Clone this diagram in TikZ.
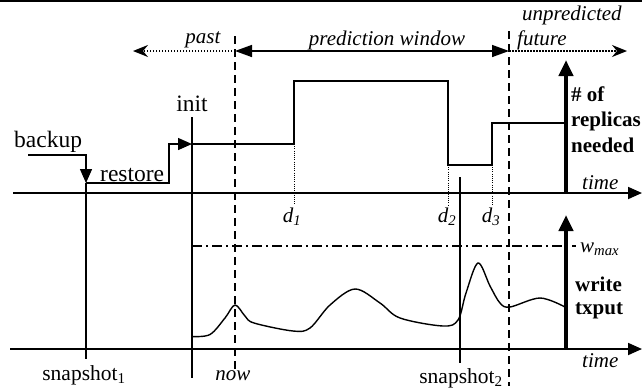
\documentclass[tikz,border=0pt]{standalone}
\usepackage{fontspec}
\setmainfont{Liberation Serif}
\usetikzlibrary{arrows.meta}
\begin{document}
\begin{tikzpicture}[x=1pt,y=-1pt,
  lbl/.style={inner sep=0pt, font=\fontsize{21.5}{24}\selectfont},
  biglbl/.style={inner sep=0pt, font=\fontsize{23.5}{26}\selectfont},
  ilbl/.style={lbl, font=\fontsize{21}{24}\selectfont\itshape},
  blbl/.style={lbl, font=\fontsize{21}{24}\selectfont\bfseries},
  axis/.style={line width=1.8pt, -{Triangle[length=14pt,width=12pt]}},
  stepline/.style={line width=1.4pt},
  thin/.style={line width=1.4pt},
  bigarrow/.style={line width=4pt, -{Triangle[length=16pt,width=14pt]}},
  dashv/.style={line width=1.5pt, dash pattern=on 8pt off 5pt},
  dotv/.style={line width=1pt, dash pattern=on 1pt off 1.2pt},
  dotarrow/.style={line width=1.5pt, dash pattern=on 1.5pt off 1.5pt, -{Stealth[length=15pt,width=12pt,inset=5pt]}},
  wmaxline/.style={line width=1.4pt, dash pattern=on 10pt off 4pt on 2pt off 4pt}
]
\useasboundingbox (0,0) rectangle (642,389);
% top frame line
\draw[line width=2pt] (0,0.8) -- (642,0.8);

% coordinates
\coordinate (now) at (235,51);
\coordinate (fut) at (509,51);
\coordinate (pastend) at (133,51);
\coordinate (futend) at (627,51);

% top arrows
\draw[dotarrow] (now) -- (pastend);
\draw[dotarrow] (fut) -- (futend);
\draw[line width=1.5pt, {Triangle[length=17pt,width=12pt]}-{Triangle[length=17pt,width=12pt]}] (now) -- (fut);

\node[ilbl, anchor=base] (past) at (203,43) {past};
\node[ilbl, anchor=base] (pw) at (387,45) {prediction window};
\node[ilbl, anchor=base west] (unp) at (522,20) {unpredicted};
\node[ilbl, anchor=base west] (future) at (517,45) {future};

% dashed verticals
\coordinate (nowtop) at (235,36);
\coordinate (nowbot) at (235,372);
\coordinate (futtop) at (509,31);
\coordinate (futbot) at (509,386);
\draw[dashv] (nowtop) -- (nowbot);
\draw[dashv] (futtop) -- (futbot);

% axes
\coordinate (ax1s) at (13,193);
\coordinate (ax1e) at (642,193);
\coordinate (ax2s) at (10,349);
\coordinate (ax2e) at (642,349);
\draw[axis] (ax1s) -- (ax1e);
\draw[axis] (ax2s) -- (ax2e);
\node[ilbl, anchor=base west] (time1) at (582,189) {time};
\node[ilbl, anchor=base west] (time2) at (582,367) {time};

% step function
\coordinate (bk) at (28,155);
\coordinate (bkd) at (86,183);
\coordinate (rsu) at (192,144);
\draw[stepline, -{Triangle[length=14pt,width=12pt]}] (bk) -| (bkd);
\draw[stepline, -{Triangle[length=14pt,width=12pt]}] (bkd) -- (169,183) -- (169,144) -- (rsu);
\draw[stepline] (rsu) -- (294,144) -- (294,81) -- (448,81) -- (448,165) -- (492,165) -- (492,123) -- (566,123);
\node[biglbl, anchor=base west] (backup) at (14,147) {backup};
\node[biglbl, anchor=base west] (restore) at (100,181) {restore};

% dotted drops
\draw[dotv] (294,144) -- (294,205);
\draw[dotv] (448,165) -- (448,205);
\draw[dotv] (492,123) -- (492,205);
\node[ilbl, anchor=base] (d1) at (292,222) {d\textsubscript{1}};
\node[ilbl, anchor=base] (d2) at (447,222) {d\textsubscript{2}};
\node[ilbl, anchor=base] (d3) at (491,222) {d\textsubscript{3}};

% init / snapshot lines
\draw[thin] (192,117) -- (192,378);
\node[biglbl, anchor=base] (init) at (192,111) {init};
\draw[thin] (bkd) -- (86,359);
\node[lbl, anchor=base] (snap1) at (84,380) {snapshot\textsubscript{1}};
\draw[thin] (460,177) -- (460,363);
\node[lbl, anchor=base] (snap2) at (461,383) {snapshot\textsubscript{2}};
\node[ilbl, anchor=base] (nowlbl) at (233,380) {now};

% big arrows
\draw[bigarrow] (566,193) -- (566,60);
\node[blbl, anchor=base west] at (571,101) {\# of};
\node[blbl, anchor=base west] at (571,126) {replicas};
\node[blbl, anchor=base west] at (571,152) {needed};
\draw[bigarrow] (566,349) -- (566,215);
\node[blbl, anchor=base west] at (575,291) {write};
\node[blbl, anchor=base west] at (575,314) {txput};

% wmax
\draw[wmaxline] (192,246) -- (576,246);
\node[ilbl, anchor=base west] (wmax) at (580,252) {w\textsubscript{max}};

% curve
\draw[line width=1.4pt] plot[smooth, tension=0.55] coordinates {
 (192,336.5) (210,334.5) (225,318) (235,305) (245,316) (254,323) (293,331) (310,328)
 (330,305) (355,289) (380,303) (400,318) (443,326) (458,320) (466,293) (478,263)
 (490,286) (500,303) (510,307) (540,298) (565,307)};
\end{tikzpicture}
\end{document}
